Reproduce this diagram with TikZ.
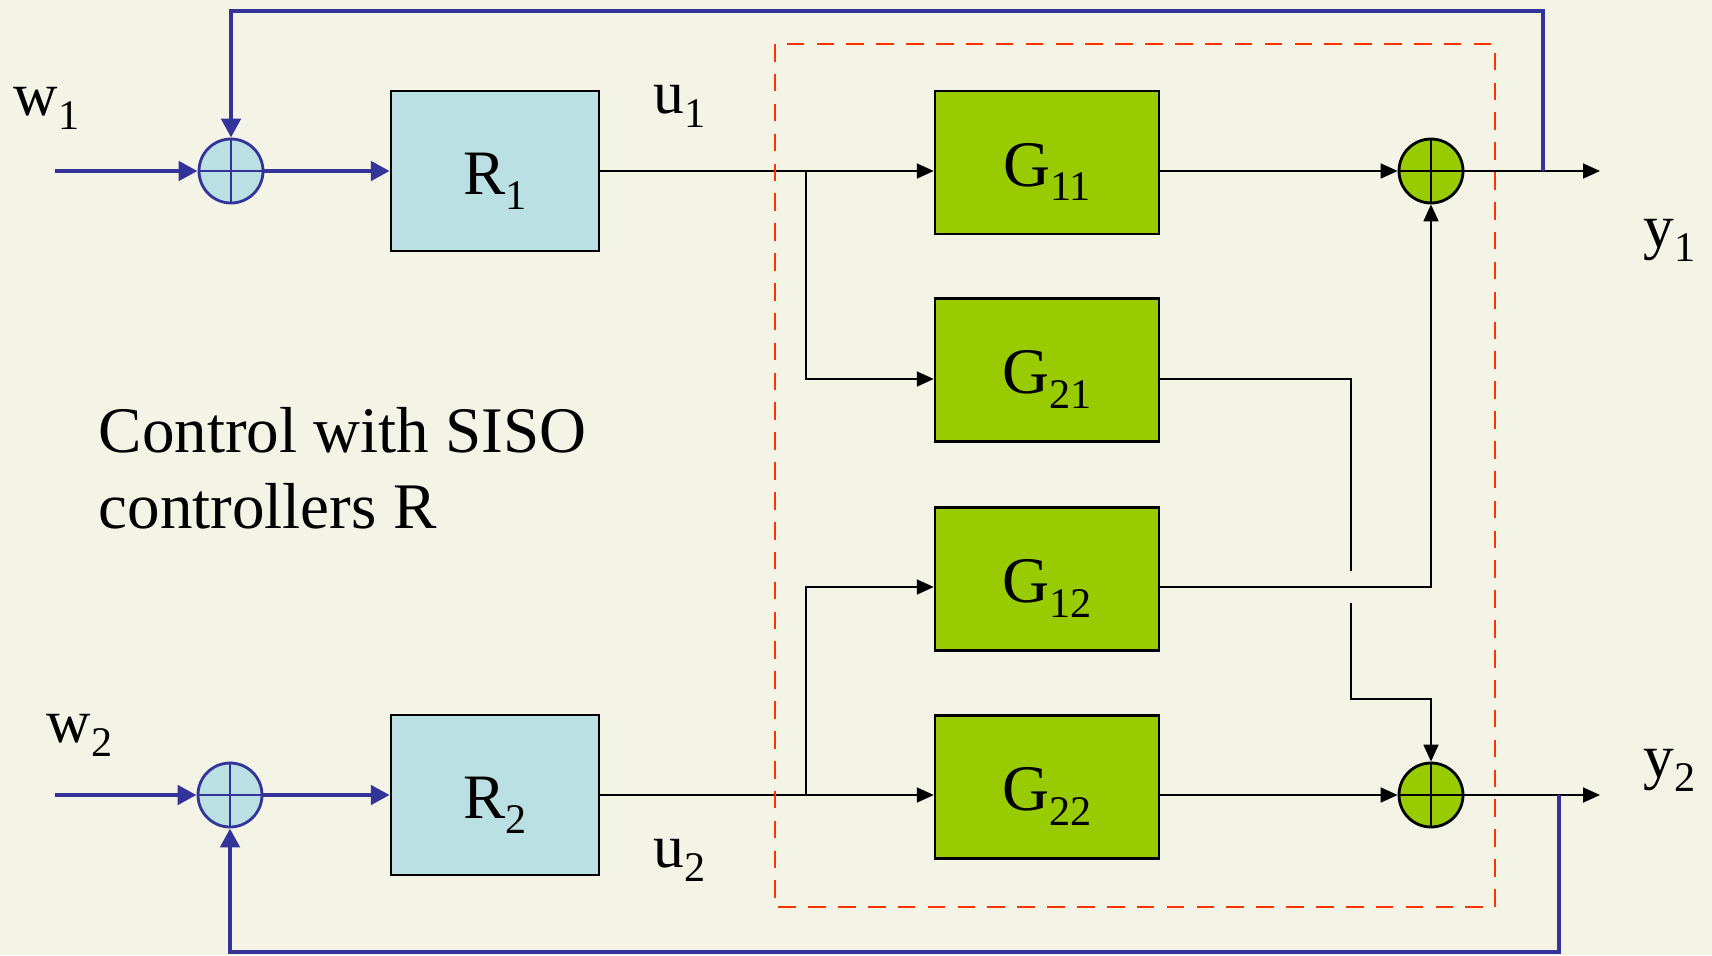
\documentclass[tikz,border=0pt]{standalone}
\usepackage{fontspec}
\setmainfont{Liberation Serif}
\usetikzlibrary{arrows.meta,calc}

% 添字（PowerPoint風に下げる）
\newcommand{\sub}[1]{\raisebox{-0.23em}{\fontsize{12}{12}\selectfont #1}}
\newcommand{\blabel}[2]{\raisebox{-0.235cm}[0pt][0pt]{#1\sub{#2}}}

\begin{document}
\begin{tikzpicture}[x=1cm,y=-1cm,
    sig/.style={line width=0.5pt, -{Triangle[length=0.17cm,width=0.15cm]}},
    fb/.style={draw=dblue, line width=1.4pt, -{Triangle[length=0.19cm,width=0.19cm]}},
    rblk/.style={draw=black, line width=0.7pt, fill=lblue, minimum width=2.08cm, minimum height=1.60cm, inner sep=0pt, font=\fontsize{18}{21}\selectfont},
    gblk/.style={draw=black, line width=0.7pt, fill=lgreen, minimum width=2.24cm, minimum height=1.43cm, inner sep=0pt, font=\fontsize{18.5}{21}\selectfont},
    sumb/.style={circle, draw=dblue, fill=lblue, line width=0.8pt, minimum size=0.64cm, inner sep=0pt},
    sumg/.style={circle, draw=black, fill=lgreen, line width=0.8pt, minimum size=0.64cm, inner sep=0pt},
    lbl/.style={anchor=base west, inner sep=0pt, font=\fontsize{17.5}{21}\selectfont}
  ]

  % 色の設定
  \definecolor{paper}{RGB}{243,243,230}
  \definecolor{lblue}{RGB}{186,224,228}
  \definecolor{lgreen}{RGB}{153,204,0}
  \definecolor{dblue}{RGB}{51,51,153}
  \definecolor{dashred}{RGB}{255,51,0}

  % 背景
  \fill[paper] (0,0) rectangle (17.12,9.55);
  \useasboundingbox (0,0) rectangle (17.12,9.55);

  % 加え合わせ点
  \node[sumb] (s1) at (2.31,1.71) {};
  \node[sumb] (s2) at (2.30,7.95) {};
  \node[sumg] (t1) at (14.31,1.71) {};
  \node[sumg] (t2) at (14.31,7.95) {};
  \foreach \s/\c in {s1/dblue, s2/dblue, t1/black, t2/black}
    \draw[\c, line width=0.8pt] (\s.north) -- (\s.south) (\s.west) -- (\s.east);

  % 調節器
  \node[rblk] (R1) at (4.95,1.71) {\blabel{R}{1}};
  \node[rblk] (R2) at (4.95,7.95) {\blabel{R}{2}};

  % プラント G_ij
  \foreach \n/\y in {11/1.625, 21/3.70, 12/5.79, 22/7.87}
    \node[gblk] (G\n) at (10.47,\y) {\blabel{G}{\n}};

  % 分岐点など
  \coordinate (b1) at (8.06,1.71);
  \coordinate (b2) at (8.06,7.95);
  \coordinate (j1) at (13.51,3.79);
  \coordinate (j2) at (13.51,6.99);
  \coordinate (o1) at (16.00,1.71);
  \coordinate (o2) at (16.00,7.95);
  \coordinate (f1) at (15.43,1.71);
  \coordinate (f2) at (15.59,7.95);
  \coordinate (in1) at (0.55,1.71);
  \coordinate (in2) at (0.55,7.95);

  % 入力側（青の太線）
  \draw[fb] (in1) -- (s1.west);
  \draw[fb] (in2) -- (s2.west);
  \draw[fb] (s1.east) -- (R1.west);
  \draw[fb] (s2.east) -- (R2.west);

  % 操作量 u1, u2
  \draw[sig] (R1.east) -- (G11.west |- R1.east);
  \draw[sig] (b1) |- ([yshift=-0.09cm]G21.west);
  \draw[sig] (R2.east) -- (G22.west |- R2.east);
  \draw[sig] (b2) |- ([yshift=-0.08cm]G12.west);

  % プラントの出力
  \draw[sig] (G11.east |- t1) -- (t1.west);
  \draw[sig] (G22.east |- t2) -- (t2.west);
  \draw[sig] ([yshift=-0.08cm]G12.east) -| (t1.south);
  \draw[line width=0.5pt] ([yshift=-0.09cm]G21.east) -- (j1) -- ++(0,1.92);
  \draw[sig] ($(j1)+(0,2.24)$) -- (j2) -| (t2.north);

  % 出力 y1, y2
  \draw[sig] (t1.east) -- (o1);
  \draw[sig] (t2.east) -- (o2);

  % フィードバック（青の太線）
  \draw[fb] (f1) -- (15.43,0.11) -| (s1.north);
  \draw[fb] (f2) -- (15.59,9.52) -| (s2.south);

  % プラントを囲む破線
  \draw[dashred, line width=0.6pt, dash pattern=on 5pt off 3.5pt] (7.75,0.44) rectangle (14.95,9.07);

  % ラベル
  \node[lbl] (w1) at (0.13,1.15) {w\sub{1}};
  \node[lbl] (w2) at (0.46,7.42) {w\sub{2}};
  \node[lbl] (u1) at (6.53,1.13) {u\sub{1}};
  \node[lbl] (u2) at (6.53,8.67) {u\sub{2}};
  \node[lbl] (y1) at (16.43,2.47) {y\sub{1}};
  \node[lbl] (y2) at (16.43,7.77) {y\sub{2}};

  % 説明文
  \node[anchor=north west, inner sep=0pt, align=left, font=\fontsize{18.5}{21.6}\selectfont] (cap) at (0.98,4.07)
    {Control with SISO\\controllers R};

\end{tikzpicture}
\end{document}
